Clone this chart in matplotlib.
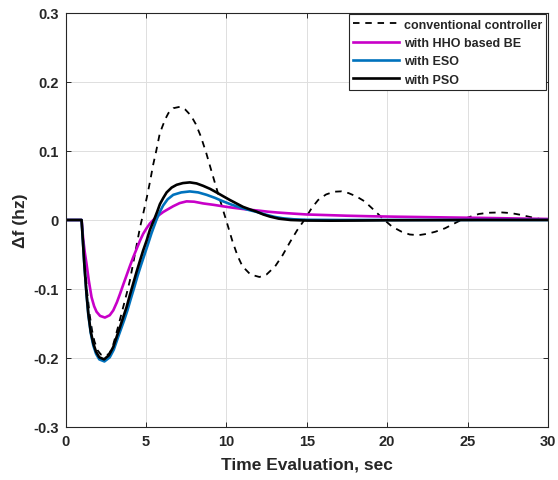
"""
Frequency deviation response: conventional controller vs HHO / ESO / PSO
"""

import matplotlib
matplotlib.use("Agg")
import matplotlib.pyplot as plt

# ── Data ──
t_conv = [0, 1.0, 1.1, 1.2, 1.35, 1.5, 1.65, 1.8, 2.0, 2.2, 2.45, 2.7, 2.9, 3.07, 3.3,
          3.59, 3.8, 4.0, 4.32, 4.63, 4.83, 5.05, 5.25, 5.45, 5.64, 5.85, 6.0, 6.2,
          6.4, 6.7, 7.1, 7.45, 7.81, 8.1, 8.4, 8.74, 9.0, 9.3, 9.57, 9.8, 10.0,
          10.37, 10.7, 11.0, 11.5, 12.06, 12.5, 13.04, 13.5, 13.96, 14.4, 14.85,
          15.3, 15.71, 16.2, 16.7, 17.16, 17.6, 18.1, 18.6, 19.2, 19.73, 20.3,
          20.9, 21.4, 21.95, 22.5, 23.0, 23.6, 24.1, 24.6, 25.2, 25.7, 26.3, 27.1,
          27.7, 28.3, 28.96, 29.5, 30]
f_conv = [0, 0, -0.03, -0.062, -0.105, -0.137, -0.16, -0.176, -0.189, -0.195, -0.197,
          -0.194, -0.186, -0.172, -0.152, -0.126, -0.107, -0.088, -0.049, -0.011,
          0.009, 0.032, 0.055, 0.08, 0.100, 0.124, 0.134, 0.146, 0.155, 0.162,
          0.164, 0.160, 0.151, 0.139, 0.122, 0.098, 0.077, 0.053, 0.032, 0.014,
          -0.001, -0.030, -0.052, -0.067, -0.079, -0.0826, -0.079, -0.067, -0.051,
          -0.032, -0.015, 0.0, 0.017, 0.029, 0.037, 0.041, 0.0415, 0.039, 0.034,
          0.027, 0.014, 0.002, -0.0095, -0.017, -0.021, -0.022, -0.020, -0.017,
          -0.012, -0.006, 0.0, 0.005, 0.0087, 0.0105, 0.011, 0.010, 0.0075, 0.004,
          0.0015, 0.0]

t_hho = [0, 1.0, 1.1, 1.2, 1.31, 1.45, 1.62, 1.78, 1.93, 2.15, 2.45, 2.75, 2.97, 3.2,
         3.39, 3.6, 3.8, 4.0, 4.21, 4.42, 4.63, 4.83, 5.04, 5.25, 5.5, 5.75, 6.07,
         6.4, 6.7, 7.1, 7.53, 8.0, 8.56, 9.2, 9.8, 10.4, 11.04, 11.6, 12.08, 12.6,
         13.2, 14.0, 15.0, 16.4, 17.5, 19.0, 20.5, 22.0, 24.0, 26.0, 28.0, 30]
f_hho = [0, 0, -0.028, -0.047, -0.064, -0.088, -0.112, -0.125, -0.133, -0.139, -0.1414,
         -0.138, -0.131, -0.119, -0.107, -0.093, -0.080, -0.067, -0.054, -0.042,
         -0.030, -0.020, -0.012, -0.005, 0.001, 0.006, 0.0115, 0.016, 0.020, 0.0245,
         0.027, 0.0265, 0.024, 0.022, 0.0198, 0.0178, 0.0159, 0.0145, 0.0134, 0.012,
         0.0108, 0.0095, 0.008, 0.007, 0.0062, 0.0054, 0.0048, 0.0043, 0.0036, 0.003,
         0.0022, 0.0015]

t_eso = [0, 1.0, 1.08, 1.17, 1.3, 1.42, 1.57, 1.73, 1.9, 2.1, 2.42, 2.75, 3.0, 3.25,
         3.45, 3.65, 3.85, 4.05, 4.27, 4.48, 4.7, 4.9, 5.1, 5.35, 5.65, 5.85, 6.07,
         6.35, 6.7, 7.2, 7.73, 8.25, 8.77, 9.3, 9.8, 10.3, 10.84, 11.35, 11.87, 12.5,
         13.0, 13.5, 14.2, 15.0, 17.0, 30]
f_eso = [0, 0, -0.03, -0.064, -0.106, -0.138, -0.164, -0.182, -0.194, -0.202, -0.205,
         -0.199, -0.188, -0.171, -0.158, -0.145, -0.131, -0.115, -0.098, -0.081,
         -0.065, -0.051, -0.037, -0.019, 0.0, 0.011, 0.021, 0.030, 0.0365, 0.040,
         0.0414, 0.040, 0.0365, 0.032, 0.027, 0.0225, 0.0183, 0.0148, 0.0118, 0.0075,
         0.0045, 0.0025, 0.001, 0.0003, 0.0, 0.0]

t_pso = [0, 1.0, 1.08, 1.17, 1.3, 1.42, 1.57, 1.73, 1.9, 2.1, 2.4, 2.7, 2.97, 3.2, 3.39,
         3.6, 3.8, 4.0, 4.21, 4.42, 4.63, 4.83, 5.04, 5.25, 5.5, 5.7, 5.87, 6.08,
         6.29, 6.6, 6.91, 7.3, 7.73, 8.15, 8.56, 9.0, 9.39, 9.8, 10.22, 10.63, 11.04,
         11.45, 11.87, 12.3, 12.7, 13.25, 14.0, 15.0, 16.5, 18.0, 20.0, 23.0, 26.0, 30]
f_pso = [0, 0, -0.03, -0.064, -0.105, -0.136, -0.162, -0.179, -0.191, -0.199, -0.202,
         -0.196, -0.184, -0.168, -0.155, -0.14, -0.126, -0.109, -0.092, -0.075, -0.059,
         -0.044, -0.030, -0.014, 0.0, 0.012, 0.023, 0.032, 0.040, 0.047, 0.051, 0.0535,
         0.0545, 0.053, 0.0495, 0.045, 0.040, 0.0345, 0.029, 0.024, 0.019, 0.0155,
         0.0122, 0.008, 0.005, 0.002, 0.0, -0.0008, -0.001, -0.0008, -0.0004, -0.0002,
         0.0, 0.0]

x_ticks = [0, 5, 10, 15, 20, 25, 30]
y_ticks = [-0.3, -0.2, -0.1, 0, 0.1, 0.2, 0.3]
y_tick_labels = ["-0.3", "-0.2", "-0.1", "0", "0.1", "0.2", "0.3"]

# ── Style ──
C_TXT = "#262626"
C_HHO = "#C800C8"
C_ESO = "#0072BD"
plt.rcParams["font.family"] = ["Liberation Sans", "DejaVu Sans"]
plt.rcParams["font.weight"] = "bold"

fig = plt.figure(figsize=(5.58, 4.81), dpi=100)
ax = fig.add_axes([0.1174, 0.1102, 0.8646, 0.8607])

ax.plot(t_conv, f_conv, color="black", lw=1.3, linestyle=(0, (3.6, 3.2)),
        label="conventional controller")
ax.plot(t_hho, f_hho, color=C_HHO, lw=1.9, label="with HHO based BE")
ax.plot(t_eso, f_eso, color=C_ESO, lw=1.9, label="with ESO")
ax.plot(t_pso, f_pso, color="black", lw=1.9, label="with PSO")

ax.set_xlim(0, 30)
ax.set_ylim(-0.3, 0.3)
ax.set_xticks(x_ticks)
ax.set_yticks(y_ticks)
ax.set_yticklabels(y_tick_labels)
ax.grid(True, color="#dedede", lw=0.7)
ax.set_axisbelow(True)

ax.tick_params(direction="in", top=True, right=True, length=3.5, width=0.7,
               colors=C_TXT, labelsize=10.5, pad=5)
for lbl in ax.get_xticklabels() + ax.get_yticklabels():
    lbl.set_fontweight("bold")
for sp in ax.spines.values():
    sp.set_color(C_TXT)
    sp.set_linewidth(0.8)

ax.set_xlabel("Time Evaluation, sec", fontsize=12.5, fontweight="bold", color=C_TXT,
              labelpad=6)
ax.set_ylabel("Δf (hz)", fontsize=12.5, fontweight="bold", color=C_TXT, labelpad=4)

leg = ax.legend(loc="upper right", bbox_to_anchor=(1.0, 1.0), borderaxespad=0.12,
                fontsize=9, fancybox=False, edgecolor=C_TXT, framealpha=1,
                handlelength=3.7, handletextpad=0.35, labelspacing=0.5,
                borderpad=0.35)
leg.get_frame().set_linewidth(0.8)
for txt in leg.get_texts():
    txt.set_fontweight("bold")
    txt.set_color(C_TXT)

fig.savefig("out.png", dpi=100, facecolor="white")
plt.close(fig)
